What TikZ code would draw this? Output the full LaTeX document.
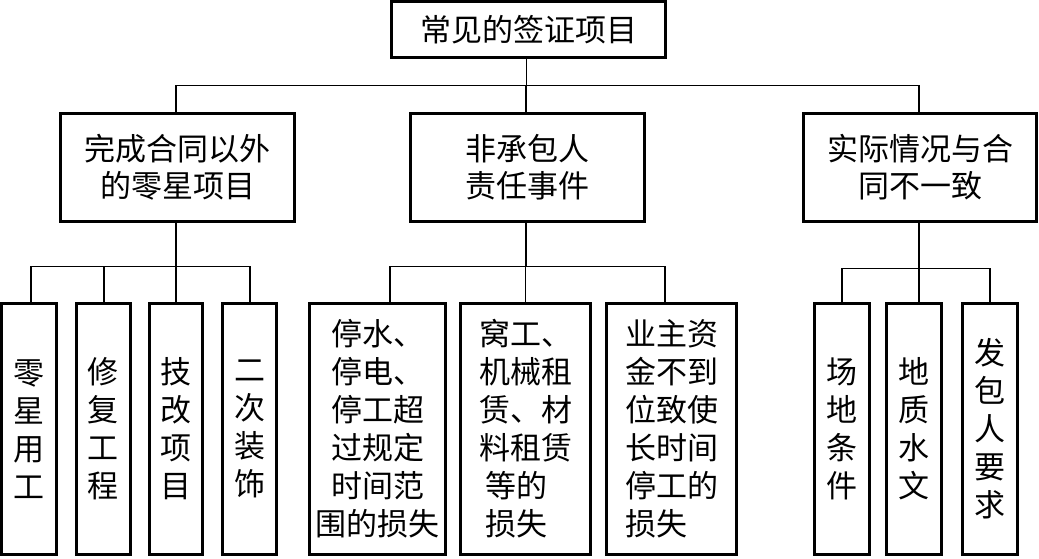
\documentclass[tikz,border=0pt]{standalone}
\usepackage{fontspec}
\newfontfamily\cjk{Noto Sans CJK SC}
\begin{document}
\begin{tikzpicture}[x=1pt,y=-1pt,
  box/.style={draw, line width=3pt, inner sep=0pt, align=center,
    font=\cjk\fontsize{31}{37}\selectfont},
  leaf/.style={box, minimum height=251pt, font=\cjk\fontsize{31}{38}\selectfont},
  conn/.style={line width=1.3pt}]
\useasboundingbox (0,0) rectangle (1039,558);
% top
\node[box, minimum width=274pt, minimum height=56pt] (top) at (528.5,29.5) {常见的签证项目};
% middle level
\node[box, minimum width=234pt, minimum height=108pt] (m1) at (177.5,167.5) {完成合同以外\\的零星项目};
\node[box, minimum width=234pt, minimum height=108pt] (m2) at (527.5,167.5) {非承包人\\责任事件};
\node[box, minimum width=233pt, minimum height=108pt] (m3) at (920,167.5) {实际情况与合\\同不一致};
% leaves
\node[leaf, minimum width=55pt] (l1) at (29,429) {零\\星\\用\\工};
\node[leaf, minimum width=54.5pt] (l2) at (103.25,429) {修\\复\\工\\程};
\node[leaf, minimum width=53pt] (l3) at (176,429) {技\\改\\项\\目};
\node[leaf, minimum width=54pt] (l4) at (249.5,429) {二\\次\\装\\饰};
\node[leaf, minimum width=136pt] (l5) at (377.5,429) {停水、\\停电、\\停工超\\过规定\\时间范\\围的损失};
\node[leaf, minimum width=130pt, align=left] (l6) at (525.5,429) {窝工、\\机械租\\赁、材\\料租赁\\\hspace{6pt}等的\\\hspace{6pt}损失};
\node[leaf, minimum width=130pt, align=left] (l7) at (671.5,429) {业主资\\金不到\\位致使\\长时间\\停工的\\损失};
\node[leaf, minimum width=55pt] (l8) at (841.5,429) {场\\地\\条\\件};
\node[leaf, minimum width=54.5pt] (l9) at (913.75,429) {地\\质\\水\\文};
\node[leaf, minimum width=55pt] (l10) at (989.5,429) {发\\包\\人\\要\\求};
% top connectors
\draw[conn] ([xshift=-2pt]top.south) -- ++(0,26.5) coordinate (tb);
\draw[conn] ([xshift=-1.5pt]m1.north) |- (tb) -| ([xshift=-1pt]m3.north);
\draw[conn] ([xshift=-1.5pt]m2.north) -- ([xshift=-1.5pt]m2.north |- tb);
% left group
\draw[conn] ([xshift=-1.5pt]m1.south) -- ++(0,43.5) coordinate (lb);
\draw[conn] ([xshift=2pt]l1.north) |- (lb) -| ([xshift=0.5pt]l4.north);
\draw[conn] ([xshift=0.75pt]l2.north) -- ([xshift=0.75pt]l2.north |- lb);
\draw[conn] (l3.north) -- (l3.north |- lb);
% middle group
\draw[conn] ([xshift=-1.5pt]m2.south) -- ++(0,43.5) coordinate (mb);
\draw[conn] ([xshift=12.5pt]l5.north) |- (mb) -| ([xshift=-6.5pt]l7.north);
\draw[conn] (l6.north) -- (l6.north |- mb);
% right group
\draw[conn] ([xshift=-1pt]m3.south) -- ++(0,45.5) coordinate (rb);
\draw[conn] ([xshift=0.5pt]l8.north) |- (rb) -| ([xshift=0.5pt]l10.north);
\draw[conn] ([xshift=5.25pt]l9.north) -- ([xshift=5.25pt]l9.north |- rb);
\end{tikzpicture}
\end{document}
